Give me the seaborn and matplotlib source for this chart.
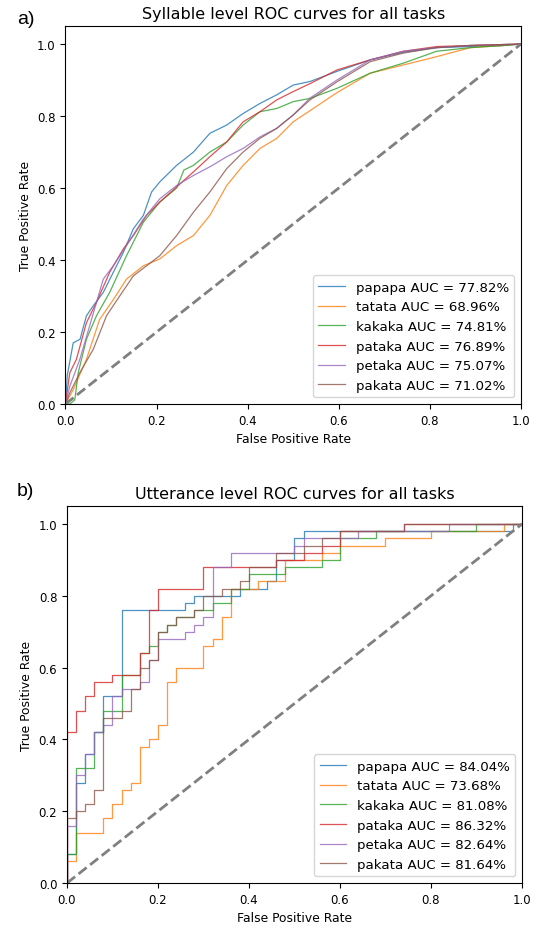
import numpy as np
import pandas as pd
import matplotlib
matplotlib.use("Agg")
import matplotlib.pyplot as plt
import seaborn as sns

tasks = ["papapa", "tatata", "kakaka", "pataka", "petaka", "pakata"]
colors = sns.color_palette("tab10", 6)

# a) syllable level
auc_a = [77.82, 68.96, 74.81, 76.89, 75.07, 71.02]
fpr_a = {
    "papapa": [0, 0.004, 0.017, 0.032, 0.046, 0.061, 0.083, 0.105, 0.127, 0.149, 0.171, 0.189, 0.207, 0.244,
               0.281, 0.317, 0.354, 0.39, 0.427, 0.464, 0.50, 0.537, 0.596, 0.669, 0.742, 0.815, 0.889, 0.962, 1.0],
    "tatata": [0, 0.017, 0.046, 0.075, 0.105, 0.134, 0.171, 0.207, 0.244, 0.281, 0.317, 0.354, 0.39, 0.427,
               0.464, 0.50, 0.537, 0.596, 0.669, 0.742, 0.815, 0.889, 0.962, 1.0],
    "kakaka": [0, 0.0095, 0.0205, 0.028, 0.046, 0.068, 0.097, 0.134, 0.171, 0.207, 0.244, 0.26, 0.281, 0.317,
               0.354, 0.39, 0.427, 0.464, 0.50, 0.537, 0.596, 0.669, 0.742, 0.815, 0.889, 0.962, 1.0],
    "pataka": [0, 0.0095, 0.024, 0.046, 0.068, 0.097, 0.127, 0.149, 0.178, 0.207, 0.244, 0.281, 0.317, 0.354,
               0.39, 0.427, 0.464, 0.50, 0.537, 0.596, 0.669, 0.742, 0.815, 0.889, 1.0],
    "petaka": [0, 0.0095, 0.0315, 0.053, 0.083, 0.105, 0.134, 0.171, 0.207, 0.244, 0.281, 0.317, 0.354, 0.39,
               0.427, 0.464, 0.50, 0.537, 0.596, 0.669, 0.742, 0.815, 0.889, 1.0],
    "pakata": [0, 0.0095, 0.0315, 0.061, 0.090, 0.119, 0.149, 0.178, 0.207, 0.244, 0.281, 0.317, 0.354, 0.39,
               0.427, 0.464, 0.50, 0.537, 0.596, 0.669, 0.742, 0.815, 0.889, 1.0],
}
tpr_a = {
    "papapa": [0, 0.08, 0.17, 0.18, 0.245, 0.273, 0.31, 0.366, 0.421, 0.487, 0.524, 0.589, 0.617, 0.663,
               0.70, 0.752, 0.775, 0.807, 0.835, 0.859, 0.886, 0.896, 0.924, 0.956, 0.977, 0.99, 0.993, 0.996, 1.0],
    "tatata": [0, 0.04, 0.124, 0.235, 0.29, 0.347, 0.384, 0.403, 0.44, 0.468, 0.524, 0.607, 0.663, 0.71,
               0.738, 0.784, 0.815, 0.865, 0.919, 0.942, 0.965, 0.99, 0.996, 1.0],
    "kakaka": [0, 0.0, 0.012, 0.087, 0.18, 0.245, 0.31, 0.412, 0.505, 0.561, 0.60, 0.65, 0.663, 0.70,
               0.728, 0.775, 0.812, 0.821, 0.84, 0.849, 0.877, 0.919, 0.947, 0.98, 0.99, 0.996, 1.0],
    "pataka": [0, 0.087, 0.124, 0.226, 0.282, 0.366, 0.431, 0.468, 0.524, 0.561, 0.603, 0.645, 0.687, 0.728,
               0.784, 0.812, 0.845, 0.868, 0.89, 0.928, 0.956, 0.98, 0.993, 0.996, 1.0],
    "petaka": [0, 0.049, 0.124, 0.217, 0.347, 0.384, 0.44, 0.514, 0.57, 0.607, 0.635, 0.659, 0.687, 0.71,
               0.742, 0.766, 0.803, 0.85, 0.90, 0.956, 0.98, 0.99, 0.996, 1.0],
    "pakata": [0, 0.031, 0.087, 0.152, 0.245, 0.30, 0.356, 0.384, 0.412, 0.468, 0.533, 0.589, 0.654, 0.70,
               0.738, 0.766, 0.803, 0.845, 0.895, 0.951, 0.975, 0.99, 0.996, 1.0],
}

# b) utterance level, step corners
auc_b = [84.04, 73.68, 81.08, 86.32, 82.64, 81.64]
fpr_b = {
    "papapa": [0, 0, 0.02, 0.04, 0.06, 0.08, 0.12, 0.26, 0.28, 0.38, 0.44, 0.46, 0.50, 0.52, 0.98, 1.0],
    "tatata": [0, 0, 0.02, 0.08, 0.10, 0.12, 0.14, 0.16, 0.18, 0.20, 0.22, 0.24, 0.30, 0.32, 0.34, 0.36,
               0.42, 0.48, 0.56, 0.60, 0.70, 0.80, 0.96, 1.0],
    "kakaka": [0, 0, 0.02, 0.06, 0.08, 0.12, 0.16, 0.18, 0.20, 0.22, 0.24, 0.28, 0.32, 0.36, 0.40, 0.48,
               0.56, 0.60, 0.68, 0.90, 1.0],
    "pataka": [0, 0, 0.02, 0.04, 0.06, 0.10, 0.16, 0.18, 0.20, 0.30, 0.46, 0.52, 0.56, 0.60, 0.74, 1.0],
    "petaka": [0, 0, 0.02, 0.04, 0.06, 0.08, 0.10, 0.12, 0.16, 0.18, 0.20, 0.26, 0.28, 0.30, 0.32, 0.36,
               0.50, 0.52, 0.64, 0.84, 1.0],
    "pakata": [0, 0, 0.02, 0.04, 0.06, 0.08, 0.12, 0.14, 0.16, 0.18, 0.20, 0.22, 0.24, 0.28, 0.30, 0.34,
               0.38, 0.40, 0.46, 0.52, 0.56, 0.60, 0.74, 1.0],
}
tpr_b = {
    "papapa": [0, 0.08, 0.28, 0.36, 0.42, 0.52, 0.76, 0.78, 0.80, 0.82, 0.84, 0.90, 0.96, 0.98, 1.0, 1.0],
    "tatata": [0, 0.06, 0.14, 0.18, 0.22, 0.26, 0.28, 0.38, 0.40, 0.44, 0.56, 0.60, 0.66, 0.68, 0.74, 0.82,
               0.84, 0.90, 0.92, 0.94, 0.96, 0.98, 1.0, 1.0],
    "kakaka": [0, 0.08, 0.32, 0.42, 0.48, 0.58, 0.64, 0.66, 0.70, 0.72, 0.74, 0.76, 0.78, 0.82, 0.86, 0.88,
               0.90, 0.96, 0.98, 1.0, 1.0],
    "pataka": [0, 0.42, 0.48, 0.52, 0.56, 0.58, 0.64, 0.76, 0.82, 0.88, 0.90, 0.92, 0.94, 0.98, 1.0, 1.0],
    "petaka": [0, 0.16, 0.30, 0.36, 0.42, 0.44, 0.52, 0.54, 0.56, 0.62, 0.68, 0.70, 0.72, 0.74, 0.88, 0.92,
               0.94, 0.96, 0.98, 1.0, 1.0],
    "pakata": [0, 0.18, 0.20, 0.22, 0.26, 0.46, 0.48, 0.54, 0.60, 0.62, 0.70, 0.72, 0.74, 0.76, 0.80, 0.82,
               0.84, 0.88, 0.92, 0.94, 0.96, 0.98, 1.0, 1.0],
}


def draw_panel(ax, fpr, tpr, auc, title, step):
    for i, t in enumerate(tasks):
        df = pd.DataFrame({"fpr": fpr[t], "tpr": tpr[t]})
        kw = {"drawstyle": "steps-post"} if step else {}
        sns.lineplot(data=df, x="fpr", y="tpr", ax=ax, sort=False, estimator=None,
                     color=colors[i], lw=0.9, alpha=0.8,
                     label=f"{t} AUC = {auc[i]:.2f}%", **kw)
    ax.plot([0, 1], [0, 1], "--", color="gray", lw=2)
    ax.set_xlim(0, 1)
    ax.set_ylim(0, 1.05)
    ax.set_xticks(np.arange(0, 1.01, 0.2))
    ax.set_yticks(np.arange(0, 1.01, 0.2))
    ax.tick_params(labelsize=8.5)
    ax.set_xlabel("False Positive Rate", fontsize=8.9)
    ax.set_ylabel("True Positive Rate", fontsize=8.9)
    ax.set_title(title, fontsize=11.5)
    ax.legend(loc="lower right", fontsize=9.6)


fig = plt.figure(figsize=(5.42, 9.29), dpi=100)
ax1 = fig.add_axes([0.1208, 0.5640, 0.8404, 0.4069])
ax2 = fig.add_axes([0.1236, 0.0484, 0.8395, 0.4058])

draw_panel(ax1, fpr_a, tpr_a, auc_a, "Syllable level ROC curves for all tasks", False)
draw_panel(ax2, fpr_b, tpr_b, auc_b, "Utterance level ROC curves for all tasks", True)

fig.text(17 / 542, 1 - 19 / 929, "a)", fontsize=14, family="Liberation Sans", va="center")
fig.text(17 / 542, 1 - 491 / 929, "b)", fontsize=14, family="Liberation Sans", va="center")

fig.savefig("out.png", dpi=100)
